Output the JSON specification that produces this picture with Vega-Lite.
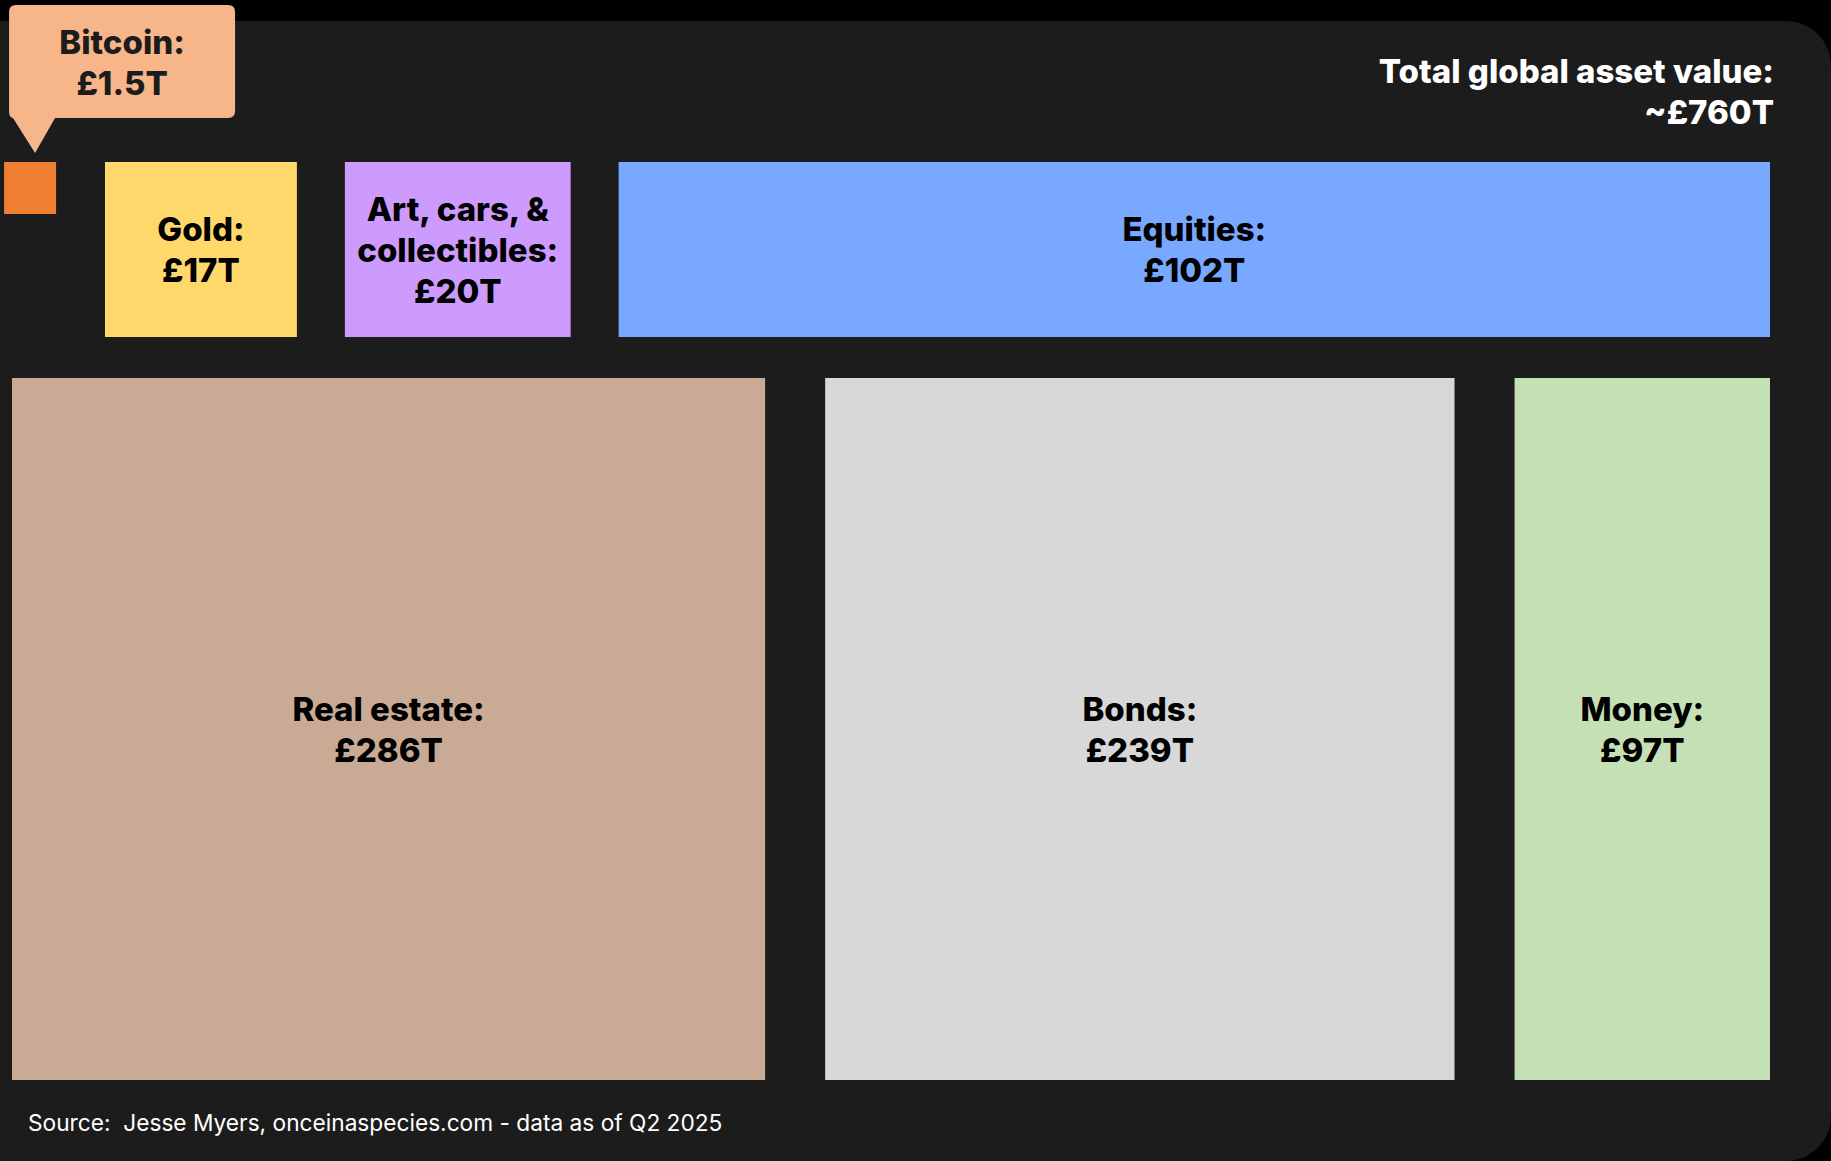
{
  "$schema": "https://vega.github.io/schema/vega-lite/v6.json",
  "width": 1881,
  "height": 1140,
  "autosize": {"type": "none"},
  "padding": {"left": -50, "top": 21, "right": 0, "bottom": 0},
  "background": "#000000",
  "config": {
    "view": {"fill": "#1c1c1c", "stroke": null, "cornerRadius": 45},
    "text": {"font": "Inter"}
  },
  "datasets": {
    "assets": [
      {"asset": "Bitcoin", "tier": "top", "order": 1, "value": 1.5, "label": "Bitcoin:\n£1.5T"},
      {"asset": "Gold", "tier": "top", "order": 2, "value": 17, "label": "Gold:\n£17T"},
      {"asset": "Art, cars, & collectibles", "tier": "top", "order": 3, "value": 20, "label": "Art, cars, &\ncollectibles:\n£20T"},
      {"asset": "Equities", "tier": "top", "order": 4, "value": 102, "label": "Equities:\n£102T"},
      {"asset": "Real estate", "tier": "bottom", "order": 1, "value": 286, "label": "Real estate:\n£286T"},
      {"asset": "Bonds", "tier": "bottom", "order": 2, "value": 239, "label": "Bonds:\n£239T"},
      {"asset": "Money", "tier": "bottom", "order": 3, "value": 97, "label": "Money:\n£97T"}
    ]
  },
  "data": {"name": "assets"},
  "resolve": {"scale": {"x": "independent", "y": "independent"}},
  "layer": [
    {
      "transform": [
        {"filter": "datum.tier === 'bottom'"},
        {"window": [{"op": "sum", "field": "value", "as": "cum"}, {"op": "row_number", "as": "idx"}], "sort": [{"field": "order", "order": "ascending"}]},
        {"calculate": "datum.cum - datum.value + (datum.idx - 1) * 22.8", "as": "x0"},
        {"calculate": "datum.cum + (datum.idx - 1) * 22.8", "as": "x1"},
        {"calculate": "(datum.x0 + datum.x1) / 2", "as": "xm"},
        {"calculate": "0.5 + (split(datum.label, '\\n').length - 1) * 20.5 / 702", "as": "ly"}
      ],
      "layer": [
        {
          "mark": {"type": "rect"},
          "encoding": {
            "x": {"field": "x0", "type": "quantitative", "scale": {"domain": [0, 667.6], "range": [62, 1820], "zero": false, "nice": false}, "axis": null},
            "x2": {"field": "x1"},
            "y": {"datum": 0, "type": "quantitative", "scale": {"domain": [0, 1], "range": [1059, 357], "zero": false, "nice": false}, "axis": null},
            "y2": {"datum": 1},
            "color": {"field": "asset", "type": "nominal", "legend": null,
              "scale": {"domain": ["Bitcoin", "Gold", "Art, cars, & collectibles", "Equities", "Real estate", "Bonds", "Money"],
                        "range": ["#EE7F33", "#FED86A", "#CD9BFD", "#78A8FF", "#C9AA94", "#D8D8D8", "#C5E0B4"]}}
          }
        },
        {
          "mark": {"type": "text", "fontWeight": 800, "fontSize": 33, "lineHeight": 41, "lineBreak": "\n", "color": "#000000", "align": "center", "baseline": "middle", "dy": 2},
          "encoding": {
            "x": {"field": "xm", "type": "quantitative"},
            "y": {"field": "ly", "type": "quantitative"},
            "text": {"field": "label"}
          }
        },
        {
          "transform": [{"filter": "datum.idx === 1"}],
          "mark": {"type": "text", "fontSize": 22.7, "color": "#ffffff", "align": "left", "baseline": "middle", "dx": 16, "dy": 44},
          "encoding": {
            "x": {"datum": 0, "type": "quantitative"},
            "y": {"datum": 0, "type": "quantitative"},
            "text": {"value": "Source: \u00a0Jesse Myers, onceinaspecies.com - data as of Q2 2025"}
          }
        }
      ]
    },
    {
      "transform": [
        {"filter": "datum.tier === 'top'"},
        {"window": [{"op": "sum", "field": "value", "as": "cum"}, {"op": "row_number", "as": "idx"}], "sort": [{"field": "order", "order": "ascending"}]},
        {"calculate": "datum.cum - datum.value + (datum.idx - 1) * 4.25", "as": "x0"},
        {"calculate": "datum.cum + (datum.idx - 1) * 4.25", "as": "x1"},
        {"calculate": "(datum.x0 + datum.x1) / 2", "as": "xm"},
        {"calculate": "0.5 + (split(datum.label, '\\n').length - 1) * 20.5 / 175", "as": "ly"}
      ],
      "layer": [
        {
          "transform": [{"filter": "datum.asset !== 'Bitcoin'"}],
          "mark": {"type": "rect"},
          "encoding": {
            "x": {"field": "x0", "type": "quantitative", "scale": {"domain": [0, 153.25], "range": [90.1, 1820], "zero": false, "nice": false}, "axis": null},
            "x2": {"field": "x1"},
            "y": {"datum": 0, "type": "quantitative", "scale": {"domain": [0, 1], "range": [316, 141], "zero": false, "nice": false}, "axis": null},
            "y2": {"datum": 1},
            "color": {"field": "asset", "type": "nominal", "legend": null}
          }
        },
        {
          "transform": [{"filter": "datum.asset !== 'Bitcoin'"}],
          "mark": {"type": "text", "fontWeight": 800, "fontSize": 33, "lineHeight": 41, "lineBreak": "\n", "color": "#000000", "align": "center", "baseline": "middle", "dy": 2},
          "encoding": {
            "x": {"field": "xm", "type": "quantitative"},
            "y": {"field": "ly", "type": "quantitative"},
            "text": {"field": "label"}
          }
        },
        {
          "transform": [{"filter": "datum.asset === 'Bitcoin'"}],
          "mark": {"type": "point", "shape": "M -0.938 -0.655 L 0.938 -0.655 Q 1 -0.655 1 -0.593 L 1 0.283 Q 1 0.345 0.938 0.345 L -0.593 0.345 L -0.770 0.655 L -0.965 0.345 Q -1 0.345 -1 0.283 L -1 -0.593 Q -1 -0.655 -0.938 -0.655 Z", "size": 51076, "filled": true, "opacity": 1, "strokeWidth": 0, "color": "#F7B68A", "xOffset": 73.5, "yOffset": -83},
          "encoding": {
            "x": {"field": "xm", "type": "quantitative"},
            "y": {"datum": 1, "type": "quantitative"}
          }
        },
        {
          "transform": [{"filter": "datum.asset === 'Bitcoin'"}],
          "mark": {"type": "point", "shape": "square", "filled": true, "opacity": 1, "strokeWidth": 0, "xOffset": -18.5, "yOffset": 26},
          "encoding": {
            "x": {"field": "xm", "type": "quantitative"},
            "y": {"datum": 1, "type": "quantitative"},
            "size": {"field": "value", "type": "quantitative", "scale": {"domain": [0, 1.5], "range": [0, 2704]}, "legend": null},
            "color": {"field": "asset", "type": "nominal", "legend": null}
          }
        },
        {
          "transform": [{"filter": "datum.asset === 'Bitcoin'"}],
          "mark": {"type": "text", "fontWeight": 800, "fontSize": 33, "lineHeight": 41, "lineBreak": "\n", "color": "#1c1c1c", "align": "center", "baseline": "middle", "dx": 73.5, "dy": -118},
          "encoding": {
            "x": {"field": "xm", "type": "quantitative"},
            "y": {"datum": 1, "type": "quantitative"},
            "text": {"field": "label"}
          }
        },
        {
          "transform": [{"filter": "datum.asset === 'Equities'"}],
          "mark": {"type": "text", "fontWeight": 800, "fontSize": 33, "lineHeight": 41, "lineBreak": "\n", "color": "#ffffff", "align": "right", "baseline": "middle", "dx": 4, "dy": -89},
          "encoding": {
            "x": {"datum": 153.25, "type": "quantitative"},
            "y": {"datum": 1, "type": "quantitative"},
            "text": {"value": "Total global asset value:\n~£760T"}
          }
        }
      ]
    }
  ]
}
